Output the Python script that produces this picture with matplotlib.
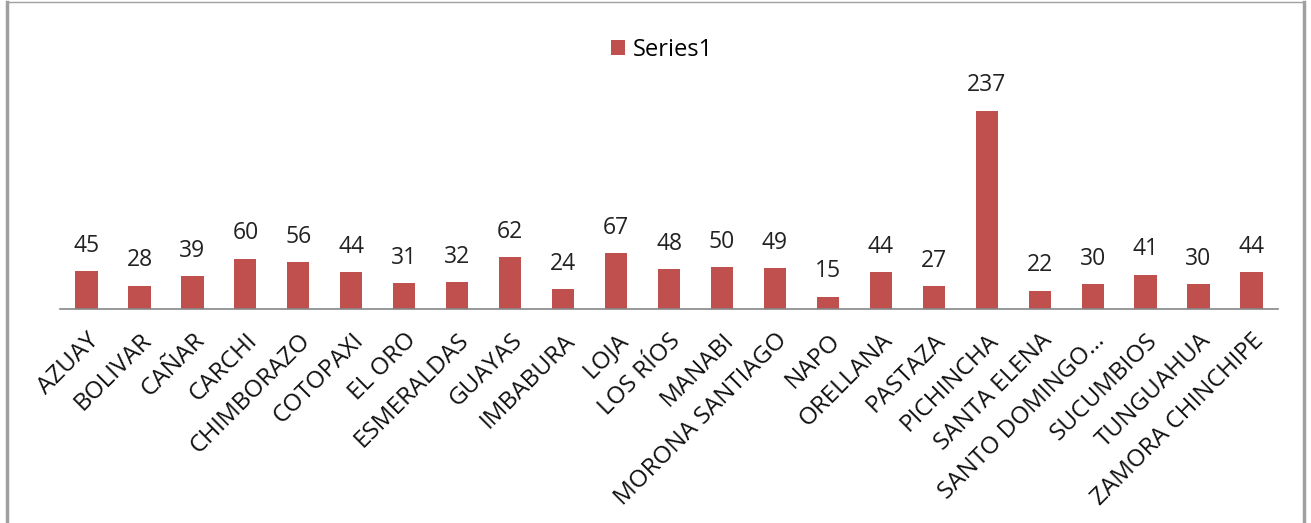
import numpy as np
import matplotlib.pyplot as plt
from matplotlib.lines import Line2D

provincias = ["AZUAY", "BOLIVAR", "CAÑAR", "CARCHI", "CHIMBORAZO", "COTOPAXI",
              "EL ORO", "ESMERALDAS", "GUAYAS", "IMBABURA", "LOJA", "LOS RÍOS",
              "MANABI", "MORONA SANTIAGO", "NAPO", "ORELLANA", "PASTAZA",
              "PICHINCHA", "SANTA ELENA", "SANTO DOMINGO…", "SUCUMBIOS",
              "TUNGUAHUA", "ZAMORA CHINCHIPE"]
valores = [45, 28, 39, 60, 56, 44, 31, 32, 62, 24, 67, 48, 50, 49, 15, 44, 27,
           237, 22, 30, 41, 30, 44]

plt.rcParams['font.family'] = ['Open Sans', 'DejaVu Sans']

fig = plt.figure(figsize=(13.11, 5.23), dpi=100)
ax = fig.add_axes([0.0458, 0.409, 0.929, 0.40])

x = np.arange(len(provincias))
bars = ax.bar(x, valores, width=0.42, color='#C0504D', label='Series1')
for xi, v in zip(x, valores):
    ax.text(xi, v + 16, str(v), ha='center', va='bottom', fontsize=16.5,
            color='#222222')

ax.set_xlim(-0.5, len(provincias) - 0.5)
ax.set_ylim(0, 250)
ax.set_xticks(x)
ax.set_xticklabels(provincias, rotation=45, ha='right', rotation_mode='anchor',
                   fontsize=17.5, color='#111111')
ax.tick_params(axis='x', length=0, pad=14)
ax.set_yticks([])
for s in ['top', 'right', 'left']:
    ax.spines[s].set_visible(False)
ax.spines['bottom'].set_color('#868686')
ax.spines['bottom'].set_linewidth(1.2)

fig.legend(handles=[bars], loc='upper center', bbox_to_anchor=(0.505, 0.968),
           frameon=False, fontsize=17, handlelength=0.6, handleheight=0.6,
           handletextpad=0.35)

# chart border
fig.add_artist(Line2D([0.005, 0.005], [0, 0.996], color='#A0A0A0', lw=2.5))
fig.add_artist(Line2D([0.995, 0.995], [0, 0.996], color='#A0A0A0', lw=2.5))
fig.add_artist(Line2D([0.005, 0.995], [0.996, 0.996], color='#A0A0A0', lw=1))

fig.savefig('out.png', dpi=100)
